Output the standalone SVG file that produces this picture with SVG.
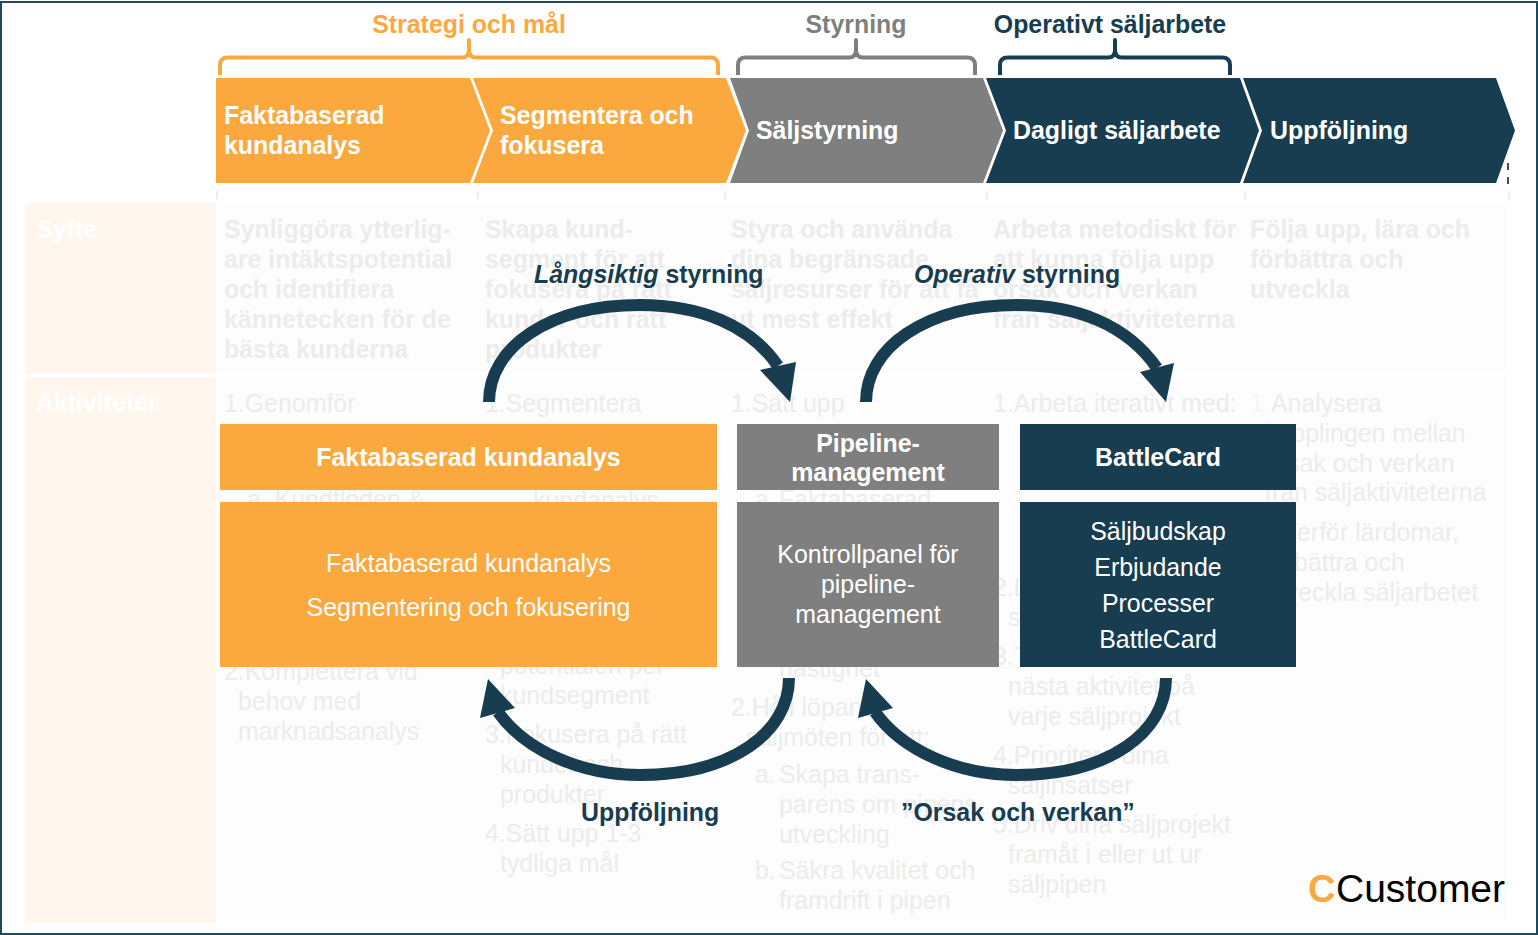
<svg xmlns="http://www.w3.org/2000/svg" width="1538" height="935" viewBox="0 0 1538 935">
<style>
text{font-family:"Liberation Sans",Arial,sans-serif;font-size:24.9px;white-space:pre}
.b{font-weight:700}
.fb{font-weight:700;fill:#ececec}
.f{fill:#ececec}
.w{fill:#fff}
.m{text-anchor:middle}
.n{fill:#183d50}
.or{fill:#fba83f}
.gr{fill:#7f7f7f}
.brace{fill:none;stroke-width:4;stroke-linejoin:round}
.arc{fill:none;stroke:#183d50;stroke-width:12}
.col{fill:#fdfdfd}
.lab{fill:#fff6ee}
.tick{stroke:#ececec;stroke-width:2}
</style>
<rect width="1538" height="935" fill="#fff"/>
<g id="background">
<rect class="lab" x="25" y="203" width="191" height="171"/>
<rect class="lab" x="25" y="377" width="191" height="546"/>
<rect class="col" x="216" y="203" width="1291" height="169"/>
<rect class="col" x="216" y="376" width="1291" height="546"/>
<path class="tick" d="M217 191v8M478 191v8M725 191v8M987 191v8M1245 191v8M1509 191v8"/>
<path d="M1508 163v7M1508 177v7" stroke="#111" stroke-width="1.5"/>
</g>
<g id="faded-text">
<text class="w b" x="36" y="238">Syfte</text>
<text class="w b" x="36" y="411">Aktiviteter</text>
<text class="fb" x="224" y="238">Synliggöra ytterlig-</text>
<text class="fb" x="224" y="268">are intäktspotential</text>
<text class="fb" x="224" y="298">och identifiera</text>
<text class="fb" x="224" y="328">kännetecken för de</text>
<text class="fb" x="224" y="358">bästa kunderna</text>
<text class="fb" x="485" y="238">Skapa kund-</text>
<text class="fb" x="485" y="268">segment för att</text>
<text class="fb" x="485" y="298">fokusera på rätt</text>
<text class="fb" x="485" y="328">kunder och rätt</text>
<text class="fb" x="485" y="358">produkter</text>
<text class="fb" x="731" y="238">Styra och använda</text>
<text class="fb" x="731" y="268">dina begränsade</text>
<text class="fb" x="731" y="298">säljresurser för att få</text>
<text class="fb" x="731" y="328">ut mest effekt</text>
<text class="fb" x="993" y="238">Arbeta metodiskt för</text>
<text class="fb" x="993" y="268">att kunna följa upp</text>
<text class="fb" x="993" y="298">orsak och verkan</text>
<text class="fb" x="993" y="328">från säljaktiviteterna</text>
<text class="fb" x="1250" y="238">Följa upp, lära och</text>
<text class="fb" x="1250" y="268">förbättra och</text>
<text class="fb" x="1250" y="298">utveckla</text>
<text class="f" x="224" y="412">1.Genomför</text>
<text class="f" x="247" y="508">a. Kundflöden &amp;</text>
<text class="f" x="224" y="680">2.Komplettera vid</text>
<text class="f" x="238" y="710">behov med</text>
<text class="f" x="238" y="740">marknadsanalys</text>
<text class="f" x="485" y="412">1.Segmentera</text>
<text class="f" x="533" y="509">kundanalys</text>
<text class="f" x="500" y="674">potentialen per</text>
<text class="f" x="500" y="704">kundsegment</text>
<text class="f" x="485" y="743">3.Fokusera på rätt</text>
<text class="f" x="500" y="773">kunder och</text>
<text class="f" x="500" y="803">produkter</text>
<text class="f" x="485" y="842">4.Sätt upp 1-3</text>
<text class="f" x="500" y="872">tydliga mål</text>
<text class="f" x="731" y="412">1.Sätt upp</text>
<text class="f" x="755" y="508">a.</text>
<text class="f" x="779" y="508">Faktabaserad</text>
<text class="f" x="779" y="677">hastighet</text>
<text class="f" x="731" y="716">2.Håll löpande</text>
<text class="f" x="746" y="746">säljmöten för att:</text>
<text class="f" x="755" y="783">a.</text>
<text class="f" x="779" y="783">Skapa trans-</text>
<text class="f" x="779" y="813">parens om pipens</text>
<text class="f" x="779" y="843">utveckling</text>
<text class="f" x="755" y="879">b.</text>
<text class="f" x="779" y="879">Säkra kvalitet och</text>
<text class="f" x="779" y="909">framdrift i pipen</text>
<text class="f" x="993" y="412">1.Arbeta iterativt med:</text>
<text class="f" x="993" y="596">2.L</text>
<text class="f" x="1008" y="626">s</text>
<text class="f" x="993" y="665">3.T</text>
<text class="f" x="1008" y="695">nästa aktivitet på</text>
<text class="f" x="1008" y="725">varje säljprojekt</text>
<text class="f" x="993" y="764">4.Prioritera dina</text>
<text class="f" x="1008" y="794">säljinsatser</text>
<text class="f" x="993" y="833">5.Driv dina säljprojekt</text>
<text class="f" x="1008" y="863">framåt i eller ut ur</text>
<text class="f" x="1008" y="893">säljpipen</text>
<text x="1250" y="412" fill="#f6f6f6">1.</text>
<text class="f" x="1271" y="412">Analysera</text>
<text class="f" x="1265" y="442">kopplingen mellan</text>
<text class="f" x="1265" y="472">orsak och verkan</text>
<text class="f" x="1265" y="501">från säljaktiviteterna</text>
<text class="f" x="1297" y="541">erför lärdomar,</text>
<text class="f" x="1265" y="571">förbättra och</text>
<text class="f" x="1265" y="601">utveckla säljarbetet</text>
</g>
<g id="brace-strategi">
<path class="brace" stroke="#fba83f" d="M220 75V65Q220 57.500 228 57.500H462Q469 57.500 469 50V40Q469 50 469 50Q469 57.500 476 57.500H710Q718 57.500 718 65V75"/>
<text class="b m" x="469" y="33" fill="#fba83f">Strategi och mål</text>
</g>
<g id="brace-styrning">
<path class="brace" stroke="#7f7f7f" d="M738 75V65Q738 57.500 746 57.500H849Q856 57.500 856 50V40Q856 50 856 50Q856 57.500 863 57.500H967Q975 57.500 975 65V75"/>
<text class="b m" x="856" y="33" fill="#7f7f7f">Styrning</text>
</g>
<g id="brace-operativt">
<path class="brace" stroke="#183d50" d="M1000 75V65Q1000 57.500 1008 57.500H1108Q1115 57.500 1115 50V40Q1115 50 1115 50Q1115 57.500 1122 57.500H1222Q1230 57.500 1230 65V75"/>
<text class="b m n" x="1110" y="33">Operativt säljarbete</text>
</g>
<g id="step-faktabaserad">
<polygon class="or" points="216,78 470,78 490,130.500 470,183 216,183"/>
<text class="w b" x="224" y="124">Faktabaserad</text>
<text class="w b" x="224" y="154">kundanalys</text>
</g>
<g id="step-segmentera">
<polygon class="or" points="473,78 726,78 746,130.500 726,183 473,183 493,130.500"/>
<text class="w b" x="500" y="124">Segmentera och</text>
<text class="w b" x="500" y="154">fokusera</text>
</g>
<g id="step-saljstyrning">
<polygon class="gr" points="730,78 983,78 1003,130.500 983,183 730,183 749,130.500"/>
<text class="w b" x="756" y="139">Säljstyrning</text>
</g>
<g id="step-dagligt">
<polygon class="n" points="986,78 1240,78 1259,130.500 1240,183 986,183 1006,130.500"/>
<text class="w b" x="1013" y="139">Dagligt säljarbete</text>
</g>
<g id="step-uppfoljning">
<polygon class="n" points="1243,78 1496,78 1515,130.500 1496,183 1243,183 1262,130.500"/>
<text class="w b" x="1270" y="139">Uppföljning</text>
</g>
<g id="connectors">
<path class="arc" d="M489 402C489 348 548 305 640 305C700 305 750 325 778 366"/>
<polygon class="n" points="760,370 796,362 790,402"/>
<path class="arc" d="M866 402C866 348 925 305 1017 305C1077 305 1127 325 1157 368"/>
<polygon class="n" points="1140,372 1174,363 1166,402"/>
<path class="arc" d="M789 678C789 732 732 775 640 775C580 775 525 750 498 712"/>
<polygon class="n" points="480,718 515,708 488,679"/>
<path class="arc" d="M1166 678C1166 732 1109 775 1017 775C957 775 902 750 875 712"/>
<polygon class="n" points="858,718 893,708 866,679"/>
</g>
<g id="label-langsiktig"><text class="b n" x="534" y="283"><tspan font-style="italic">Långsiktig</tspan> styrning</text></g>
<g id="label-operativ"><text class="b n" x="914" y="283"><tspan font-style="italic">Operativ</tspan> styrning</text></g>
<g id="label-uppfoljning"><text class="b n" x="581" y="821">Uppföljning</text></g>
<g id="label-orsak"><text class="b n" x="901" y="821">”Orsak och verkan”</text></g>
<g id="box-analys-head">
<rect class="or" x="220" y="424" width="497" height="66"/>
<text class="w b m" x="468.500" y="466">Faktabaserad kundanalys</text>
</g>
<g id="box-analys-body">
<rect class="or" x="220" y="502" width="497" height="165"/>
<text class="w m" x="468.500" y="572">Faktabaserad kundanalys</text>
<text class="w m" x="468.500" y="616">Segmentering och fokusering</text>
</g>
<g id="box-pipeline-head">
<rect class="gr" x="737" y="424" width="262" height="66"/>
<text class="w b m" x="868" y="452">Pipeline-</text>
<text class="w b m" x="868" y="481">management</text>
</g>
<g id="box-pipeline-body">
<rect class="gr" x="737" y="502" width="262" height="165"/>
<text class="w m" x="868" y="563">Kontrollpanel för</text>
<text class="w m" x="868" y="593">pipeline-</text>
<text class="w m" x="868" y="623">management</text>
</g>
<g id="box-battlecard-head">
<rect class="n" x="1020" y="424" width="276" height="66"/>
<text class="w b m" x="1158" y="466">BattleCard</text>
</g>
<g id="box-battlecard-body">
<rect class="n" x="1020" y="502" width="276" height="165"/>
<text class="w m" x="1158" y="540">Säljbudskap</text>
<text class="w m" x="1158" y="576">Erbjudande</text>
<text class="w m" x="1158" y="612">Processer</text>
<text class="w m" x="1158" y="648">BattleCard</text>
</g>
<g id="logo">
<text x="1308" y="902" style="font-size:38px;font-weight:700" fill="#fba83f">C</text>
<text x="1336" y="902" style="font-size:39px" fill="#000">Customer</text>
</g>
<rect id="frame" x="1" y="2" width="1536" height="932" fill="none" stroke="#1e4a5c" stroke-width="2"/>
</svg>
